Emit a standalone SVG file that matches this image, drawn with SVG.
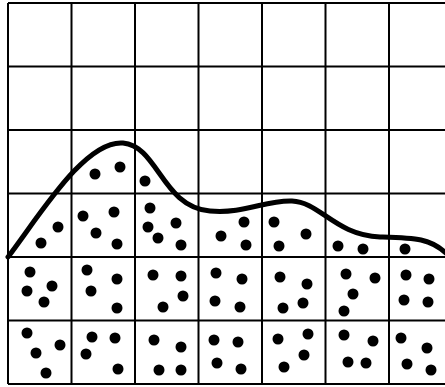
<svg xmlns="http://www.w3.org/2000/svg" width="445" height="387" viewBox="0 0 445 387">
<style>
.g{stroke:#000;stroke-width:2;fill:none}
.c{stroke:#000;stroke-width:5;fill:none;stroke-linecap:round}
.d{fill:#000}
</style>
<rect width="445" height="387" fill="#fff"/>
<g id="grid" class="g">
<path d="M8 3V384M71.5 3V384M135 3V384M198.5 3V384M262 3V384M325.5 3V384M389 3V384M452.5 3V384"/>
<path d="M8 3H452M8 66.5H452M8 130H452M8 193.5H452M8 257H452M8 320.5H452M8 384H452"/>
</g>
<g id="curve">
<path class="c" d="M8 257 C40 215 85 140 123 143 C158 146 162 207 210 211 C245 214 265 200 292 201 C320 202 335 235 380 237 C415 238 430 238 447 254"/>
</g>
<g id="dots" class="d">
<circle cx="41" cy="243" r="5.5"/><circle cx="58" cy="227" r="5.5"/><circle cx="95" cy="174" r="5.5"/><circle cx="120" cy="167" r="5.5"/><circle cx="145" cy="181" r="5.5"/>
<circle cx="83" cy="216" r="5.5"/><circle cx="114" cy="212" r="5.5"/><circle cx="96" cy="233" r="5.5"/><circle cx="117" cy="244" r="5.5"/>
<circle cx="150" cy="208" r="5.5"/><circle cx="148" cy="227" r="5.5"/><circle cx="158" cy="238" r="5.5"/><circle cx="176" cy="223" r="5.5"/><circle cx="181" cy="245" r="5.5"/>
<circle cx="221" cy="236" r="5.5"/><circle cx="244" cy="222" r="5.5"/><circle cx="246" cy="245" r="5.5"/>
<circle cx="274" cy="222" r="5.5"/><circle cx="279" cy="246" r="5.5"/><circle cx="306" cy="234" r="5.5"/>
<circle cx="338" cy="246" r="5.5"/><circle cx="363" cy="249" r="5.5"/><circle cx="405" cy="249" r="5.5"/>
<circle cx="30" cy="272" r="5.5"/><circle cx="27" cy="291" r="5.5"/><circle cx="52" cy="286" r="5.5"/><circle cx="44" cy="302" r="5.5"/>
<circle cx="87" cy="270" r="5.5"/><circle cx="117" cy="279" r="5.5"/><circle cx="91" cy="291" r="5.5"/><circle cx="117" cy="308" r="5.5"/>
<circle cx="153" cy="275" r="5.5"/><circle cx="181" cy="276" r="5.5"/><circle cx="183" cy="296" r="5.5"/><circle cx="163" cy="307" r="5.5"/>
<circle cx="216" cy="273" r="5.5"/><circle cx="242" cy="279" r="5.5"/><circle cx="215" cy="301" r="5.5"/><circle cx="240" cy="307" r="5.5"/>
<circle cx="280" cy="277" r="5.5"/><circle cx="283" cy="308" r="5.5"/><circle cx="307" cy="284" r="5.5"/><circle cx="303" cy="303" r="5.5"/>
<circle cx="346" cy="274" r="5.5"/><circle cx="375" cy="278" r="5.5"/><circle cx="353" cy="294" r="5.5"/><circle cx="344" cy="311" r="5.5"/>
<circle cx="406" cy="275" r="5.5"/><circle cx="429" cy="279" r="5.5"/><circle cx="404" cy="300" r="5.5"/><circle cx="428" cy="302" r="5.5"/>
<circle cx="27" cy="333" r="5.5"/><circle cx="36" cy="353" r="5.5"/><circle cx="60" cy="345" r="5.5"/><circle cx="46" cy="373" r="5.5"/>
<circle cx="92" cy="337" r="5.5"/><circle cx="115" cy="338" r="5.5"/><circle cx="86" cy="354" r="5.5"/><circle cx="118" cy="369" r="5.5"/>
<circle cx="154" cy="340" r="5.5"/><circle cx="181" cy="347" r="5.5"/><circle cx="159" cy="370" r="5.5"/><circle cx="181" cy="370" r="5.5"/>
<circle cx="214" cy="340" r="5.5"/><circle cx="238" cy="342" r="5.5"/><circle cx="217" cy="363" r="5.5"/><circle cx="241" cy="369" r="5.5"/>
<circle cx="278" cy="339" r="5.5"/><circle cx="284" cy="367" r="5.5"/><circle cx="308" cy="334" r="5.5"/><circle cx="304" cy="355" r="5.5"/>
<circle cx="344" cy="335" r="5.5"/><circle cx="373" cy="341" r="5.5"/><circle cx="348" cy="362" r="5.5"/><circle cx="366" cy="363" r="5.5"/>
<circle cx="401" cy="338" r="5.5"/><circle cx="427" cy="348" r="5.5"/><circle cx="407" cy="364" r="5.5"/><circle cx="431" cy="370" r="5.5"/>
</g>
</svg>
